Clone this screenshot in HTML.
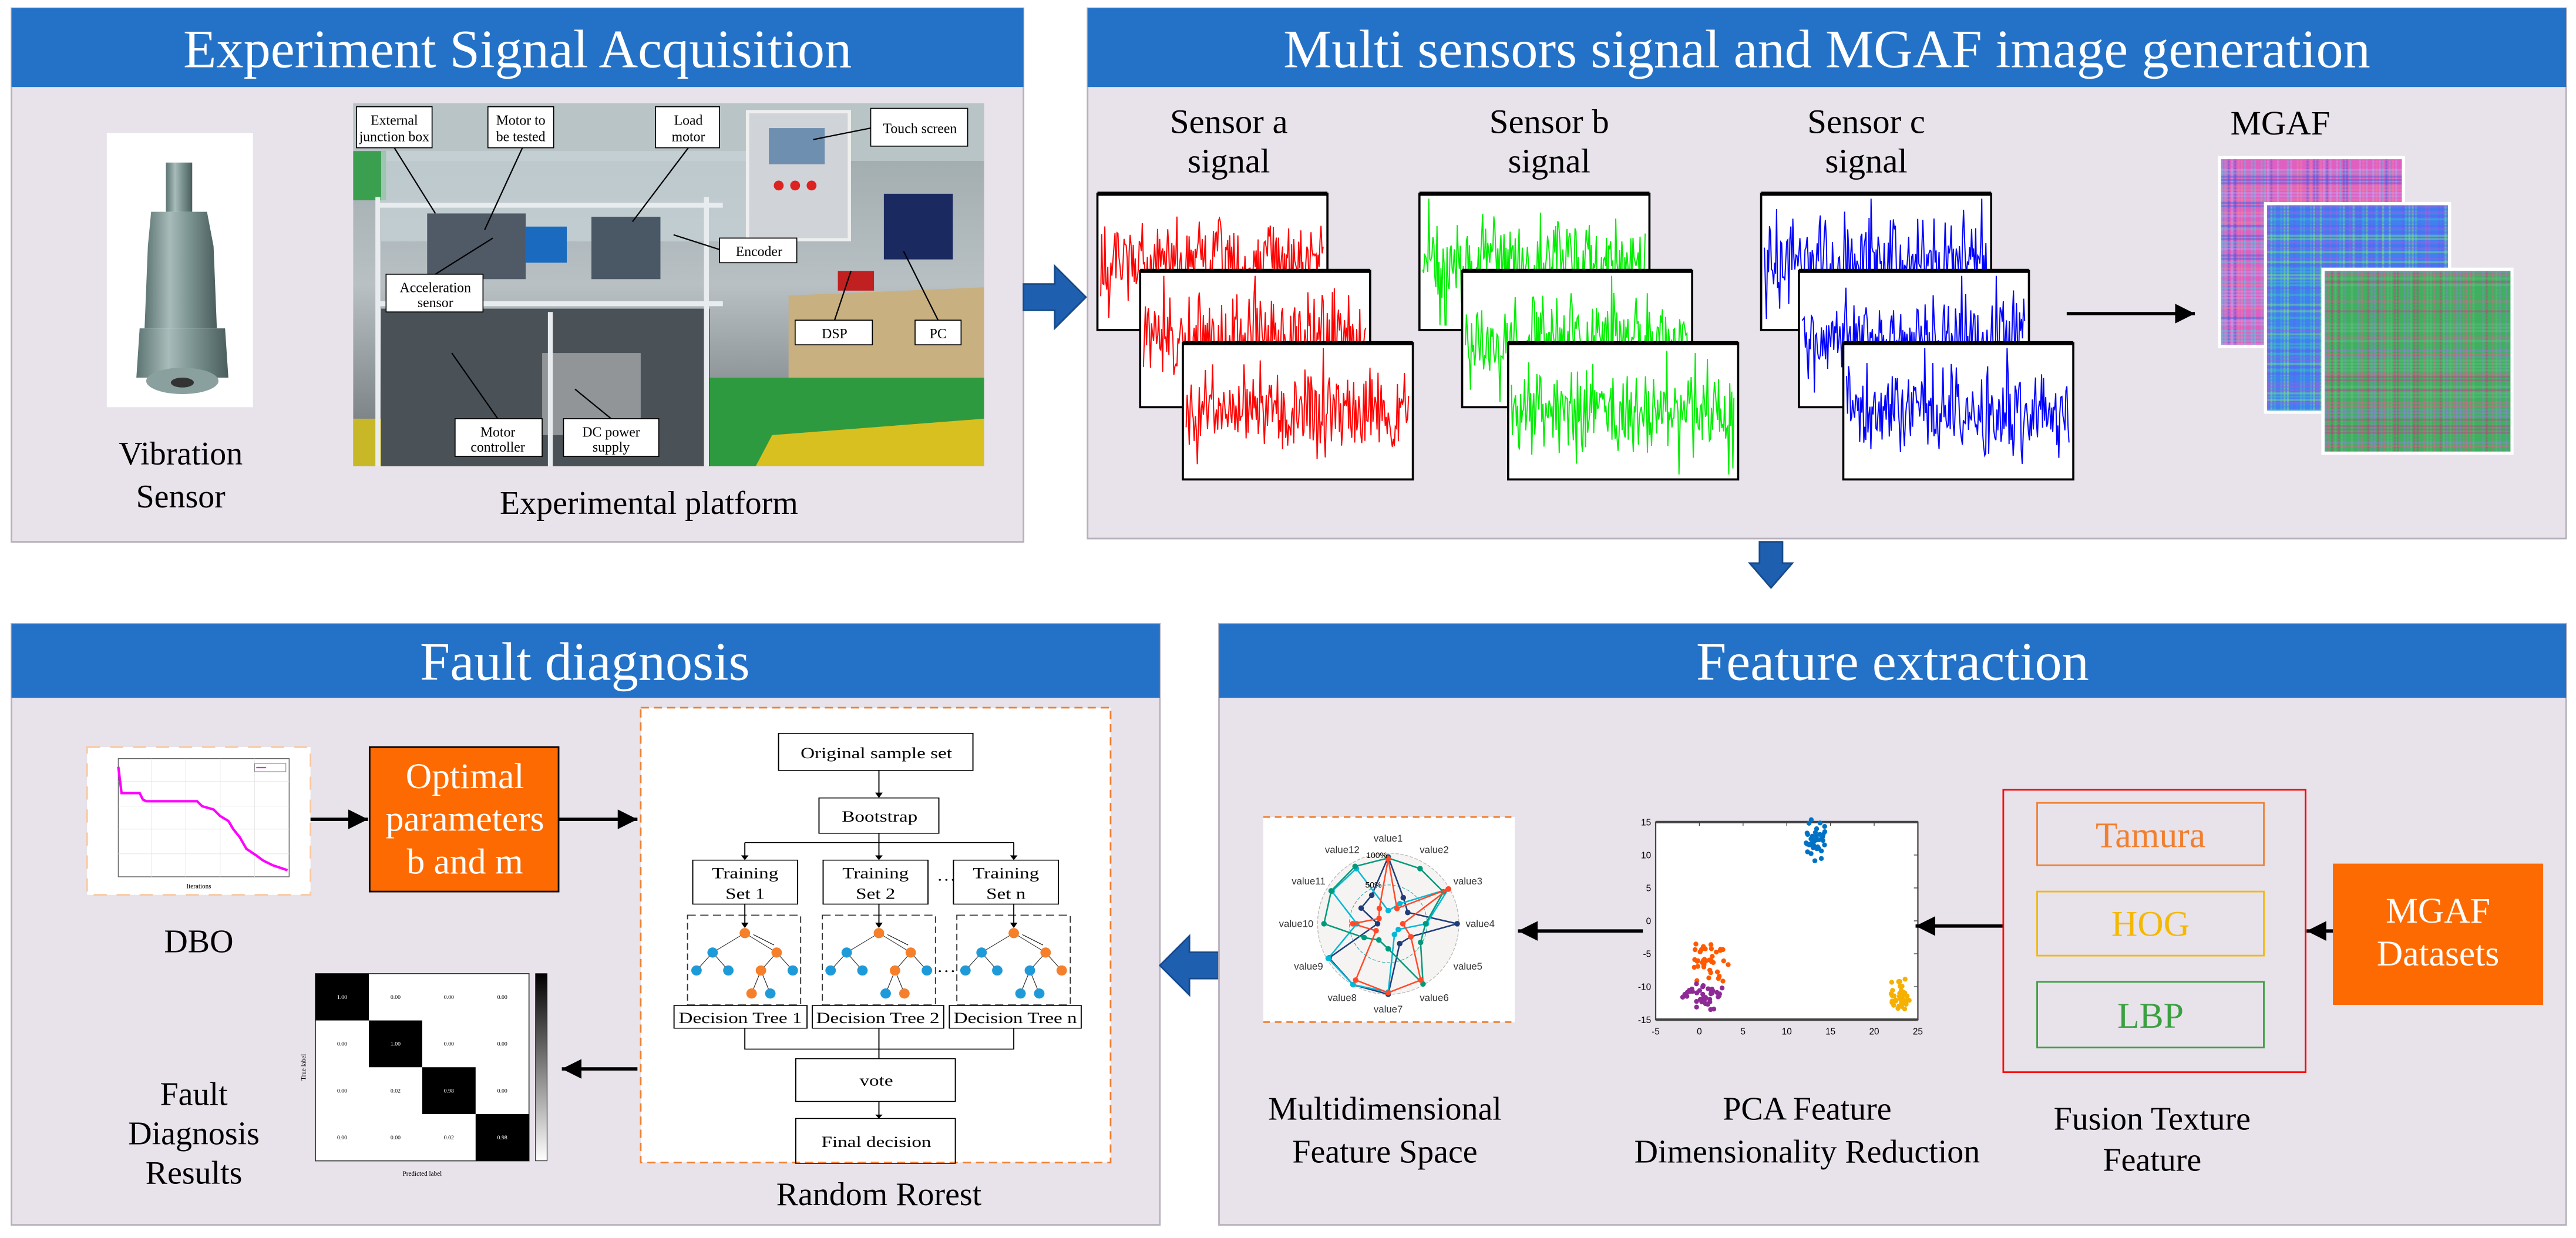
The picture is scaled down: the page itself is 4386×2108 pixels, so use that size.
<!DOCTYPE html>
<html><head><meta charset="utf-8"><style>
html,body{margin:0;padding:0;background:#fff;}
svg{display:block}
svg text{font-family:"Liberation Serif","Times New Roman",serif;}
svg text.sans{font-family:"Liberation Sans",sans-serif;}
</style></head><body>
<svg id="s" xmlns="http://www.w3.org/2000/svg" width="4386" height="2108" viewBox="0 0 1568 754" preserveAspectRatio="none" font-family="Liberation Serif, serif">
<defs>
<marker id="ah" viewBox="0 0 10 10" refX="10" refY="5" markerWidth="6" markerHeight="6" orient="auto"><path d="M0,0L10,5L0,10z" fill="#000"/></marker>
<linearGradient id="sens" x1="0" x2="1"><stop offset="0" stop-color="#5c7472"/><stop offset="0.35" stop-color="#a8bcba"/><stop offset="0.6" stop-color="#7e9694"/><stop offset="1" stop-color="#4a5e5c"/></linearGradient>
<linearGradient id="photo" x1="0" y1="0" x2="0" y2="1"><stop offset="0" stop-color="#9aa6a8"/><stop offset="0.5" stop-color="#b8c0c4"/><stop offset="1" stop-color="#6a7074"/></linearGradient>
</defs>
<rect width="1568" height="754" fill="#fff"/>

<!-- Panel 1 -->
<rect x="7" y="5" width="616" height="325" fill="#e8e2ea" stroke="#b8b0bc"/>
<rect x="7" y="5" width="616" height="48" fill="#2472c8"/>
<text x="315" y="41" font-size="33" fill="#fff" text-anchor="middle">Experiment Signal Acquisition</text>
<rect x="65" y="81" width="89" height="167" fill="#fff"/>
<rect x="101" y="99" width="16" height="30" fill="url(#sens)"/>
<path d="M92,129 L126,129 L130,150 L132,200 L88,200 L90,150 Z" fill="url(#sens)"/>
<path d="M85,200 L137,200 L139,230 L83,230 Z" fill="url(#sens)"/>
<ellipse cx="111" cy="232" rx="22" ry="8" fill="#8aa09e"/>
<ellipse cx="111" cy="233" rx="7" ry="3" fill="#333"/>
<text x="110" y="283" font-size="20" text-anchor="middle">Vibration</text>
<text x="110" y="309" font-size="20" text-anchor="middle">Sensor</text>
<rect x="215" y="63" width="384" height="221" fill="url(#photo)"/>
<rect x="215" y="63" width="384" height="35" fill="#b8c4c6"/>
<rect x="215" y="92" width="20" height="30" fill="#3aa050"/>
<path d="M480,180 L599,175 L599,284 L480,284 Z" fill="#c8b080"/>
<path d="M430,230 L599,230 L599,284 L430,284 Z" fill="#2e9a40"/>
<path d="M470,265 L599,255 L599,284 L460,284 Z" fill="#d8c020"/>
<rect x="215" y="255" width="90" height="29" fill="#c8b828"/>
<rect x="232" y="92" width="250" height="55" fill="#c8d4d8" opacity="0.7"/>
<rect x="260" y="130" width="60" height="40" fill="#505a66"/>
<rect x="320" y="138" width="25" height="22" fill="#1a6ac0"/>
<rect x="360" y="132" width="42" height="38" fill="#4a5866"/>
<rect x="455" y="68" width="62" height="78" fill="#d0d4d8" stroke="#eee" stroke-width="2"/>
<rect x="468" y="78" width="34" height="22" fill="#6f8fb0"/>
<circle cx="474" cy="113" r="3" fill="#d22"/><circle cx="484" cy="113" r="3" fill="#d22"/><circle cx="494" cy="113" r="3" fill="#d22"/>
<rect x="538" y="118" width="42" height="40" fill="#1a2a60"/>
<rect x="510" y="165" width="22" height="12" fill="#c02020"/>
<rect x="232" y="188" width="200" height="96" fill="#4a5258"/>
<rect x="330" y="215" width="60" height="50" fill="#d8d8d8" opacity="0.5"/>
<g stroke="#e8ecef" stroke-width="3" fill="none"><path d="M230,120 V284 M430,120 V284 M230,185 H440 M230,125 H440 M335,190 V284"/></g>
<g font-size="8.5" text-anchor="middle" fill="#000">
<rect x="217" y="65" width="46" height="25" fill="#fff" stroke="#000" stroke-width="0.6"/><text x="240" y="76">External</text><text x="240" y="86">junction box</text>
<rect x="297" y="65" width="40" height="25" fill="#fff" stroke="#000" stroke-width="0.6"/><text x="317" y="76">Motor to</text><text x="317" y="86">be tested</text>
<rect x="399" y="65" width="39" height="25" fill="#fff" stroke="#000" stroke-width="0.6"/><text x="419" y="76">Load</text><text x="419" y="86">motor</text>
<rect x="530" y="66" width="59" height="23" fill="#fff" stroke="#000" stroke-width="0.6"/><text x="560" y="81">Touch screen</text>
<rect x="438" y="145" width="47" height="15" fill="#fff" stroke="#000" stroke-width="0.6"/><text x="462" y="156">Encoder</text>
<rect x="235" y="167" width="59" height="23" fill="#fff" stroke="#000" stroke-width="0.6"/><text x="265" y="178">Acceleration</text><text x="265" y="187">sensor</text>
<rect x="484" y="195" width="47" height="15" fill="#fff" stroke="#000" stroke-width="0.6"/><text x="508" y="206">DSP</text>
<rect x="557" y="195" width="28" height="15" fill="#fff" stroke="#000" stroke-width="0.6"/><text x="571" y="206">PC</text>
<rect x="277" y="255" width="53" height="23" fill="#fff" stroke="#000" stroke-width="0.6"/><text x="303" y="266">Motor</text><text x="303" y="275">controller</text>
<rect x="343" y="255" width="58" height="23" fill="#fff" stroke="#000" stroke-width="0.6"/><text x="372" y="266">DC power</text><text x="372" y="275">supply</text>
</g>
<g stroke="#000" stroke-width="0.8"><path d="M240,90 L265,130 M318,90 L295,140 M419,90 L385,135 M438,152 L410,143 M265,167 L300,145 M530,78 L495,85 M508,195 L518,165 M571,195 L550,153 M303,255 L275,215 M372,255 L350,237"/></g>
<text x="395" y="313" font-size="20" text-anchor="middle">Experimental platform</text>

<path d="M623,173 L642,173 L642,162 L661,181 L642,200 L642,189 L623,189 Z" fill="#1f5fb0" stroke="#174a8a"/>

<!-- Panel 2 -->
<rect x="662" y="5" width="900" height="323" fill="#e8e2ea" stroke="#b8b0bc"/>
<rect x="662" y="5" width="900" height="48" fill="#2472c8"/>
<text x="1112" y="41" font-size="33" fill="#fff" text-anchor="middle">Multi sensors signal and MGAF image generation</text>
<g font-size="21" text-anchor="middle">
<text x="748" y="81">Sensor a</text><text x="748" y="105">signal</text>
<text x="943" y="81">Sensor b</text><text x="943" y="105">signal</text>
<text x="1136" y="81">Sensor c</text><text x="1136" y="105">signal</text>
<text x="1388" y="82">MGAF</text>
</g>
<g id="sig"></g>
<line x1="1258" y1="191" x2="1336" y2="191" stroke="#000" stroke-width="2" marker-end="url(#ah)"/>
<g id="mgaf"></g>

<path d="M1071,330 L1085,330 L1085,343 L1091,343 L1078,358 L1065,343 L1071,343 Z" fill="#1f5fb0" stroke="#174a8a"/>

<!-- Panel 3 -->
<rect x="7" y="380" width="699" height="366" fill="#e8e2ea" stroke="#b8b0bc"/>
<rect x="7" y="380" width="699" height="45" fill="#2472c8"/>
<text x="356" y="414" font-size="33" fill="#fff" text-anchor="middle">Fault diagnosis</text>
<rect x="53" y="455" width="136" height="90" fill="#fff" stroke="#f8c8a0" stroke-dasharray="8,6" stroke-width="1"/>
<rect x="72" y="462" width="104" height="72" fill="#fff" stroke="#666" stroke-width="0.5"/>
<g stroke="#e4e4e4" stroke-width="0.3"><path d="M92,462V534M113,462V534M134,462V534M155,462V534M72,476H176M72,491H176M72,505H176M72,520H176"/></g>
<path d="M72,467 L74,483 L85,483 L87,487 L89,488 L120,488 L123,491 L130,493 L134,497 L139,500 L142,505 L146,510 L150,517 L156,521 L160,524 L166,527 L175,530" fill="none" stroke="#ff00ff" stroke-width="1.5"/>
<rect x="155" y="465" width="19" height="5" fill="#fff" stroke="#888" stroke-width="0.4"/>
<line x1="156" y1="467.5" x2="162" y2="467.5" stroke="#f0f" stroke-width="0.8"/>
<text x="121" y="541" font-size="4" text-anchor="middle">Iterations</text>
<text x="121" y="580" font-size="20" text-anchor="middle">DBO</text>
<line x1="189" y1="499" x2="224" y2="499" stroke="#000" stroke-width="2" marker-end="url(#ah)"/>
<rect x="225" y="455" width="115" height="88" fill="#fd6a02" stroke="#000" stroke-width="1"/>
<g font-size="22" fill="#fff" text-anchor="middle"><text x="283" y="480">Optimal</text><text x="283" y="506">parameters</text><text x="283" y="532">b and m</text></g>
<line x1="340" y1="499" x2="388" y2="499" stroke="#000" stroke-width="2" marker-end="url(#ah)"/>
<rect x="390" y="431" width="286" height="277" fill="#fff" stroke="#f08030" stroke-dasharray="5,3" stroke-width="1"/>
<g transform="translate(375.4,429) scale(0.228,0.1821)">
<g fill="none" stroke="#000" stroke-width="3">
<rect x="432" y="97" width="519" height="124"/>
<rect x="540" y="313" width="320" height="118"/>
<rect x="203" y="521" width="280" height="147"/>
<rect x="551" y="521" width="280" height="147"/>
<rect x="899" y="521" width="280" height="147"/>
<rect x="153" y="1007" width="355" height="76"/>
<rect x="522" y="1007" width="351" height="76"/>
<rect x="888" y="1007" width="352" height="76"/>
<rect x="478" y="1185" width="426" height="143"/>
<rect x="478" y="1385" width="426" height="150"/>
<path d="M700,431V462 M342,462H1060 M342,1083V1153H1060V1083 M700,1083V1185"/>
</g>
<g fill="none" stroke="#333" stroke-width="3" stroke-dasharray="22,12">
<rect x="189" y="705" width="302" height="300"/><rect x="549" y="705" width="302" height="300"/><rect x="908" y="705" width="303" height="300"/>
</g>
<g stroke="#000" stroke-width="3">
<path d="M700,221V300 M342,462V510 M700,462V510 M1060,462V510 M342,668V735 M700,668V735 M1060,668V735 M700,1328V1375"/>
</g>
<g fill="#000"><path d="M690,295L710,295L700,313Z M332,505L352,505L342,521Z M690,505L710,505L700,521Z M1050,505L1070,505L1060,521Z M332,730L352,730L342,748Z M690,730L710,730L700,748Z M1050,730L1070,730L1060,748Z M690,1372L710,1372L700,1385Z"/></g>
<g id="trees"></g>
<g font-size="52" text-anchor="middle">
<text x="693" y="180">Original sample set</text>
<text x="702" y="392">Bootstrap</text>
<text x="343" y="582">Training</text><text x="343" y="650">Set 1</text>
<text x="691" y="582">Training</text><text x="691" y="650">Set 2</text>
<text x="1039" y="582">Training</text><text x="1039" y="650">Set n</text>
<text x="330" y="1066">Decision Tree 1</text>
<text x="697" y="1066">Decision Tree 2</text>
<text x="1064" y="1066">Decision Tree n</text>
<text x="693" y="1275">vote</text>
<text x="693" y="1480">Final decision</text>
<text x="880" y="590">…</text><text x="880" y="895">…</text>
</g>
</g>
<text x="535" y="734" font-size="20" text-anchor="middle">Random Rorest</text>
<g id="cm"></g>
<line x1="388" y1="651" x2="342" y2="651" stroke="#000" stroke-width="2" marker-end="url(#ah)"/>
<g font-size="20" text-anchor="middle"><text x="118" y="673">Fault</text><text x="118" y="697">Diagnosis</text><text x="118" y="721">Results</text></g>

<path d="M742,580 L724,580 L724,570 L706,588 L724,606 L724,596 L742,596 Z" fill="#1f5fb0" stroke="#174a8a"/>

<!-- Panel 4 -->
<rect x="742" y="380" width="820" height="366" fill="#e8e2ea" stroke="#b8b0bc"/>
<rect x="742" y="380" width="820" height="45" fill="#2472c8"/>
<text x="1152" y="414" font-size="33" fill="#fff" text-anchor="middle">Feature extraction</text>
<rect x="769" y="497.6" width="153" height="125" fill="#fff"/>
<line x1="769" y1="497.6" x2="922" y2="497.6" stroke="#f08030" stroke-dasharray="4,3" stroke-width="1"/>
<line x1="769" y1="622.5" x2="922" y2="622.5" stroke="#f08030" stroke-dasharray="4,3" stroke-width="1"/>
<g id="radar"></g>
<line x1="1000" y1="567" x2="924" y2="567" stroke="#000" stroke-width="2" marker-end="url(#ah)"/>
<rect x="1007.8" y="500.7" width="159.6" height="120.3" fill="#fff" stroke="#444" stroke-width="0.8"/>
<g id="pca"></g>
<line x1="1219" y1="564" x2="1166" y2="564" stroke="#000" stroke-width="2" marker-end="url(#ah)"/>
<rect x="1219.4" y="481" width="184" height="172" fill="none" stroke="#ff0000" stroke-width="1"/>
<rect x="1240" y="489" width="138" height="38" fill="none" stroke="#f08030" stroke-width="1"/>
<rect x="1240" y="543" width="138" height="39" fill="none" stroke="#f5b800" stroke-width="1"/>
<rect x="1240" y="598" width="138" height="40" fill="none" stroke="#3aa040" stroke-width="1"/>
<g font-size="22" text-anchor="middle">
<text x="1309" y="516" fill="#f08030">Tamura</text>
<text x="1309" y="570" fill="#f5b800">HOG</text>
<text x="1309" y="626" fill="#3aa040">LBP</text>
</g>
<line x1="1420" y1="567" x2="1404" y2="567" stroke="#000" stroke-width="2" marker-end="url(#ah)"/>
<rect x="1420" y="526" width="128" height="86" fill="#fd6a02"/>
<g font-size="22" fill="#fff" text-anchor="middle"><text x="1484" y="562">MGAF</text><text x="1484" y="588">Datasets</text></g>
<g font-size="20" text-anchor="middle">
<text x="1310" y="688">Fusion Texture</text><text x="1310" y="713">Feature</text>
<text x="1100" y="682">PCA Feature</text><text x="1100" y="708">Dimensionality Reduction</text>
<text x="843" y="682">Multidimensional</text><text x="843" y="708">Feature Space</text>
</g>
</svg>
<script>
(function(){
var NS="http://www.w3.org/2000/svg";
var seed=12345;function r(){seed=(seed*16807)%2147483647;return seed/2147483647;}
function el(p,t,a,txt){var e=document.createElementNS(NS,t);for(var k in a)e.setAttribute(k,a[k]);if(txt!==undefined)e.textContent=txt;p.appendChild(e);return e;}
var sig=document.getElementById('sig');
var cols=['#ff0000','#00ee00','#0000ff'];
var bx=[[668,694,720],[864,890,918],[1072,1095,1122]];
var by=[118,165,209];
for(var s=0;s<3;s++){for(var k=0;k<3;k++){
 var x=bx[s][k],y=by[k],w=140,h=83;
 el(sig,'rect',{x:x,y:y,width:w,height:h,fill:'#fff',stroke:'#000','stroke-width':1.3});
 el(sig,'line',{x1:x,y1:y,x2:x+w,y2:y,stroke:'#000','stroke-width':2.5});
 var d='',n=220,cy=y+h*0.5;
 for(var i=0;i<n;i++){var v=(r()+r()+r()-1.5)*0.55;if(r()<0.05)v*=2.2;var yy=cy+v*h*0.55;yy=Math.max(y+3,Math.min(y+h-3,yy));d+=(i?'L':'M')+(x+2+i*(w-4)/n).toFixed(1)+','+yy.toFixed(1);}
 el(sig,'path',{d:d,fill:'none',stroke:cols[s],'stroke-width':0.7});
}}
var mg=document.getElementById('mgaf');
var imgs=[[1352,97,110,113],[1380,125,110,125],[1415,165,113,110]];
var pal=[['#e060c0','#4060e0','#60c0e0','#c0a0f0','#f080a0'],['#4080f0','#40c0c0','#80e080','#a060e0','#6060f0'],['#40b060','#e06090','#9080e0','#60c080','#c04080']];
for(var m=0;m<3;m++){var q=imgs[m];
 el(mg,'rect',{x:q[0]-2,y:q[1]-2,width:q[2]+4,height:q[3]+4,fill:'#fff'});
 el(mg,'rect',{x:q[0],y:q[1],width:q[2],height:q[3],fill:pal[m][0]});
 for(var i=0;i<q[2];i+=2)el(mg,'rect',{x:q[0]+i,y:q[1],width:1.2,height:q[3],fill:pal[m][Math.floor(r()*5)],opacity:0.55});
 for(var i=0;i<q[3];i+=2)el(mg,'rect',{x:q[0],y:q[1]+i,width:q[2],height:1.2,fill:pal[m][Math.floor(r()*5)],opacity:0.45});
}
var tr=document.getElementById('trees');
function tree(ox,t){var O='#f57f2a',B='#1f9ad8';
 var N=[[342,765,O],[256,830,B],[427,830,O],[213,890,B],[298,890,B],[385,890,O],[470,890,B],[360,967,O],[410,967,B]];
 if(t==2){N[8][2]=O;N[7][2]=B;}
 if(t==3){N=[[342,765,O],[256,830,B],[427,830,O],[213,890,B],[298,890,B],[385,890,B],[470,890,O],[360,967,B],[410,967,B]];}
 var E=[[0,1],[0,2],[1,3],[1,4],[2,5],[2,6],[5,7],[5,8]];
 E.forEach(function(e){el(tr,'line',{x1:N[e[0]][0]+ox,y1:N[e[0]][1],x2:N[e[1]][0]+ox,y2:N[e[1]][1],stroke:'#333','stroke-width':2});});
 N.forEach(function(n){el(tr,'ellipse',{cx:n[0]+ox,cy:n[1],rx:14,ry:17,fill:n[2]});});
 el(tr,'line',{x1:365+ox,y1:770,x2:420+ox,y2:805,stroke:'#000','stroke-width':2});
}
tree(0,1);tree(358,2);tree(718,3);
var cm=document.getElementById('cm');
var cx0=192,cy0=593,cw=130,ch=114;
el(cm,'rect',{x:cx0,y:cy0,width:cw,height:ch,fill:'#fff',stroke:'#333','stroke-width':0.6});
var vals=[['1.00','0.00','0.00','0.00'],['0.00','1.00','0.00','0.00'],['0.00','0.02','0.98','0.00'],['0.00','0.00','0.02','0.98']];
for(var i=0;i<4;i++){el(cm,'rect',{x:cx0+i*cw/4,y:cy0+i*ch/4,width:cw/4,height:ch/4,fill:'#000'});
 for(var j=0;j<4;j++){el(cm,'text',{x:cx0+(j+0.5)*cw/4,y:cy0+(i+0.5)*ch/4+1.2,'font-size':3.5,'text-anchor':'middle',fill:i==j?'#fff':'#000'},vals[i][j]);}}
var g=el(cm,'defs',{});var lg=el(g,'linearGradient',{id:'cb',x1:0,y1:0,x2:0,y2:1});el(lg,'stop',{offset:0,'stop-color':'#000'});el(lg,'stop',{offset:1,'stop-color':'#fff'});
el(cm,'rect',{x:326,y:cy0,width:7,height:ch,fill:'url(#cb)',stroke:'#000','stroke-width':0.4});
el(cm,'text',{x:257,y:cy0+ch+9,'font-size':4,'text-anchor':'middle'},'Predicted label');
el(cm,'text',{x:186,y:cy0+ch/2,'font-size':4,'text-anchor':'middle',transform:'rotate(-90 186 '+(cy0+ch/2)+')'},'True label');
var rd=document.getElementById('radar');var RX=845,RY=562.6,R=43;
el(rd,'circle',{cx:RX,cy:RY,r:R,fill:'#f6f4f2',stroke:'#bbb','stroke-dasharray':'2,1','stroke-width':0.5});
el(rd,'circle',{cx:RX,cy:RY,r:R*0.55,fill:'none',stroke:'#3aa','stroke-dasharray':'2,1','stroke-width':0.4});
var rc=['#1f3d7a','#00b8d8','#009a7a','#ff4a2a'];
for(var c=0;c<4;c++){var pts=[];for(var i=0;i<12;i++){var a=-Math.PI/2+i*Math.PI/6;var rr=R*(0.05+0.5*r());if(r()<0.35)rr=R*(0.9+0.1*r());pts.push([RX+rr*Math.cos(a),RY+rr*Math.sin(a)]);}
 var d='';pts.forEach(function(p,i){d+=(i?'L':'M')+p[0].toFixed(1)+','+p[1].toFixed(1);});
 el(rd,'path',{d:d+'Z',fill:'none',stroke:rc[c],'stroke-width':0.9});
 pts.forEach(function(p){el(rd,'circle',{cx:p[0],cy:p[1],r:1.7,fill:rc[c]});});}
for(var i=0;i<12;i++){var a=-Math.PI/2+i*Math.PI/6;el(rd,'text',{x:RX+(R+13)*Math.cos(a),y:RY+(R+9)*Math.sin(a)+2,'font-size':6,'text-anchor':'middle','class':'sans',fill:'#333'},'value'+(i+1));}
el(rd,'text',{x:RX-7,y:RY-R+3,'font-size':5,'text-anchor':'middle','class':'sans'},'100%');
el(rd,'text',{x:RX-9,y:RY-22,'font-size':5,'text-anchor':'middle','class':'sans'},'50%');
var pc=document.getElementById('pca');
function mx(v){return 1007.8+(v+5)/30*159.6;}function my(v){return 500.7+(15-v)/30*120.3;}
[-5,0,5,10,15,20,25].forEach(function(v){el(pc,'text',{x:mx(v),y:630,'font-size':5.5,'text-anchor':'middle','class':'sans'},v);el(pc,'line',{x1:mx(v),y1:500.7,x2:mx(v),y2:503,stroke:'#444','stroke-width':0.5});});
[15,10,5,0,-5,-10,-15].forEach(function(v){el(pc,'text',{x:1005,y:my(v)+2,'font-size':5.5,'text-anchor':'end','class':'sans'},v);el(pc,'line',{x1:1165,y1:my(v),x2:1167.4,y2:my(v),stroke:'#444','stroke-width':0.5});});
el(pc,'line',{x1:1007.8,y1:500.7,x2:1167.4,y2:500.7,stroke:'#444','stroke-width':1.5});
el(pc,'line',{x1:1007.8,y1:621,x2:1167.4,y2:621,stroke:'#444','stroke-width':1.5});
var cl=[[13.3,12.3,1,2.5,'#0072c6'],[1,-6.5,1.6,2.2,'#ff5a00'],[0.5,-11.5,2,1.6,'#8e2a96'],[23,-11.5,0.8,2.3,'#f5b000']];
cl.forEach(function(c){for(var i=0;i<40;i++){var x=c[0]+(r()+r()-1)*c[2]*1.5,y=c[1]+(r()+r()-1)*c[3]*1.5;el(pc,'circle',{cx:mx(x),cy:my(y),r:1.5,fill:c[4]});}});
var ts=document.querySelectorAll('svg text');
for(var i=0;i<ts.length;i++){if(ts[i].getAttribute('class')!=='sans')ts[i].setAttribute('font-family','Liberation Serif, serif');else ts[i].setAttribute('font-family','Liberation Sans, sans-serif');}
})();
</script>
</body></html>
